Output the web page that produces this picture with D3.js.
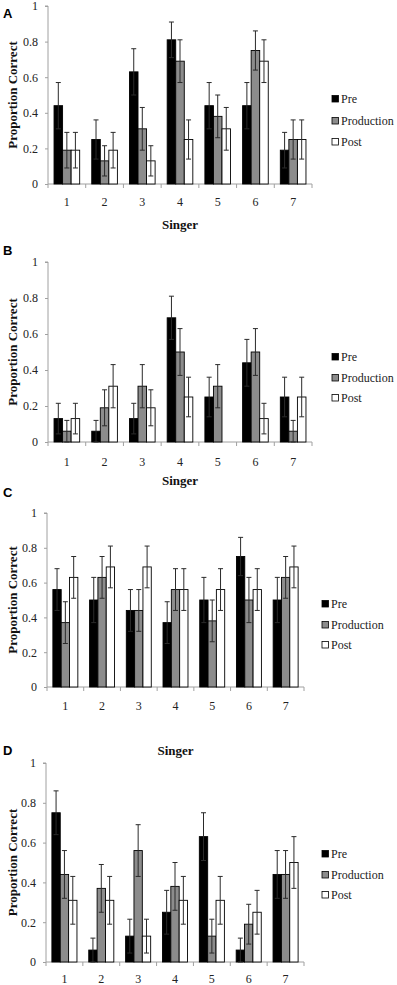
<!DOCTYPE html>
<html><head><meta charset="utf-8">
<script src="https://cdn.jsdelivr.net/npm/d3@7"></script>
<style>body{margin:0;background:#fff}svg{display:block}</style>
</head><body>
<svg id="chart" width="397" height="985"></svg>
<script>
const singers = ["1","2","3","4","5","6","7"];
const seriesNames = ["Pre","Production","Post"];
const seriesColors = ["#000000","#8c8c8c","#ffffff"];
const yTickValues = [0,0.2,0.4,0.6,0.8,1];
const yTickLabels = ["0","0.2","0.4","0.6","0.8","1"];
const panelLetters = ["A","B","C","D"];

// Panel A
const preA  = [0.44,0.25,0.63,0.81,0.44,0.44,0.19];
const prodA = [0.19,0.13,0.31,0.69,0.38,0.75,0.25];
const postA = [0.19,0.19,0.13,0.25,0.31,0.69,0.25];
const errPreA  = [0.13,0.11,0.13,0.10,0.13,0.13,0.10];
const errProdA = [0.10,0.085,0.12,0.12,0.12,0.11,0.11];
const errPostA = [0.10,0.10,0.085,0.11,0.12,0.12,0.11];
// Panel B
const preB  = [0.13,0.06,0.13,0.69,0.25,0.44,0.25];
const prodB = [0.06,0.19,0.31,0.50,0.31,0.50,0.06];
const postB = [0.13,0.31,0.19,0.25,0.00,0.13,0.25];
const errPreB  = [0.085,0.06,0.085,0.12,0.11,0.13,0.11];
const errProdB = [0.06,0.10,0.12,0.13,0.12,0.13,0.06];
const errPostB = [0.085,0.12,0.10,0.11,0.00,0.085,0.11];
// Panel C
const preC  = [0.56,0.50,0.44,0.37,0.50,0.75,0.50];
const prodC = [0.37,0.63,0.44,0.56,0.38,0.50,0.63];
const postC = [0.63,0.69,0.69,0.56,0.56,0.56,0.69];
const errPreC  = [0.12,0.13,0.12,0.12,0.13,0.11,0.13];
const errProdC = [0.12,0.12,0.12,0.12,0.12,0.13,0.12];
const errPostC = [0.12,0.12,0.12,0.12,0.12,0.12,0.12];
// Panel D
const preD  = [0.75,0.06,0.13,0.25,0.63,0.06,0.44];
const prodD = [0.44,0.37,0.56,0.38,0.13,0.19,0.44];
const postD = [0.31,0.31,0.13,0.31,0.31,0.25,0.50];
const errPreD  = [0.11,0.06,0.085,0.11,0.12,0.06,0.12];
const errProdD = [0.12,0.12,0.13,0.12,0.085,0.10,0.12];
const errPostD = [0.12,0.12,0.085,0.12,0.12,0.11,0.13];

const panelData = [
  {vals:[preA,prodA,postA], errs:[errPreA,errProdA,errPostA]},
  {vals:[preB,prodB,postB], errs:[errPreB,errProdB,errPostB]},
  {vals:[preC,prodC,postC], errs:[errPreC,errProdC,errPostC]},
  {vals:[preD,prodD,postD], errs:[errPreD,errProdD,errPostD]}
];

// layout (pixels)
const layouts = [
  {x0:48,x1:312,yTop:6,  yBase:184,tickY:206,singerY:229,letterY:18, legX:332,legY:[99,121,142],singer:true},
  {x0:48,x1:312,yTop:262,yBase:442,tickY:466,singerY:485,letterY:255,legX:332,legY:[357,378,398],singer:true},
  {x0:47,x1:304,yTop:513,yBase:687,tickY:710,singerY:755,letterY:497,legX:322,legY:[604,625,645],singer:true},
  {x0:46,x1:304,yTop:763,yBase:962,tickY:983,singerY:0,  letterY:755,legX:322,legY:[854,875,895],singer:false}
];

const svg = d3.select("#chart");
const serif = "'Liberation Serif','Times New Roman',serif";
const axisColor = "#a0a0a0";

layouts.forEach((L, pi) => {
  const D = panelData[pi];
  const g = svg.append("g");
  const y = d3.scaleLinear().domain([0,1]).range([L.yBase, L.yTop]);
  const x = d3.scaleBand().domain(singers).range([L.x0, L.x1]).padding(0);
  const bw = x.bandwidth();
  const xs = d3.scaleBand().domain(seriesNames).range([bw*0.16, bw*0.84]).padding(0);

  // y axis
  const yAxis = g.append("g").attr("transform", `translate(${L.x0},0)`)
    .call(d3.axisLeft(y).tickValues(yTickValues).tickSize(3).tickPadding(7)
      .tickFormat((d,i) => yTickLabels[i]));
  yAxis.select(".domain").attr("stroke", axisColor).attr("d", `M-3,${L.yTop}H0V${L.yBase}`);
  yAxis.selectAll(".tick line").attr("stroke", axisColor);
  yAxis.selectAll(".tick text").attr("font-family", serif).attr("font-size", 12).attr("fill", "#222");

  // x axis
  const xAxis = g.append("g").attr("transform", `translate(0,${L.yBase})`)
    .call(d3.axisBottom(x).tickSize(0).tickPadding(0).tickFormat(d => ""));
  xAxis.select(".domain").attr("stroke", axisColor).attr("d", `M${L.x0},0H${L.x1}`);
  // boundary ticks
  const bounds = singers.map(s => x(s)).concat([L.x1]);
  g.selectAll(".bt").data(bounds).join("line")
    .attr("x1", d => d).attr("x2", d => d)
    .attr("y1", L.yBase).attr("y2", L.yBase + 4)
    .attr("stroke", axisColor);
  // x tick labels
  g.selectAll(".xl").data(singers).join("text")
    .attr("x", d => x(d) + bw/2).attr("y", L.tickY)
    .attr("text-anchor", "middle").attr("font-family", serif).attr("font-size", 12).attr("fill", "#222")
    .text(d => d);

  // bars
  seriesNames.forEach((sn, si) => {
    const vals = D.vals[si];
    g.selectAll(".bar" + si).data(vals).join("rect")
      .attr("x", (d,i) => x(singers[i]) + xs(sn))
      .attr("width", xs.bandwidth())
      .attr("y", d => y(d))
      .attr("height", d => y(0) - y(d))
      .attr("fill", seriesColors[si])
      .attr("stroke", d => d > 0 ? "#000" : "none")
      .attr("stroke-width", 0.9);
  });
  // error bars
  seriesNames.forEach((sn, si) => {
    const vals = D.vals[si], errs = D.errs[si];
    const eg = g.append("g").attr("stroke", "#2a2a2a").attr("stroke-width", 1).attr("fill", "none");
    vals.forEach((v, i) => {
      const e = errs[i];
      if (!(e > 0)) return;
      const cx = x(singers[i]) + xs(sn) + xs.bandwidth()/2;
      const yt = y(v + e), yb = y(Math.max(0, v - e));
      eg.append("line").attr("x1", cx).attr("x2", cx).attr("y1", yt).attr("y2", yb);
      eg.append("line").attr("x1", cx - 2.5).attr("x2", cx + 2.5).attr("y1", yt).attr("y2", yt);
      eg.append("line").attr("x1", cx - 2.5).attr("x2", cx + 2.5).attr("y1", yb).attr("y2", yb);
    });
  });

  // y title
  const cy = (L.yTop + L.yBase) / 2;
  g.append("text").attr("transform", `translate(17,${cy}) rotate(-90)`)
    .attr("text-anchor", "middle").attr("font-family", serif).attr("font-weight", "bold")
    .attr("font-size", 13).attr("fill", "#111").text("Proportion Correct");

  // x title
  if (L.singer) {
    g.append("text").attr("x", (L.x0 + L.x1)/2).attr("y", L.singerY)
      .attr("text-anchor", "middle").attr("font-family", serif).attr("font-weight", "bold")
      .attr("font-size", 13).attr("fill", "#111").text("Singer");
  }

  // panel letter
  g.append("text").attr("x", 3).attr("y", L.letterY)
    .attr("font-family", "'Liberation Sans',Arial,sans-serif").attr("font-weight", "bold")
    .attr("font-size", 13).attr("fill", "#000").text(panelLetters[pi]);

  // legend
  seriesNames.forEach((sn, si) => {
    const ly = L.legY[si];
    g.append("rect").attr("x", L.legX).attr("y", ly - 3.5).attr("width", 6.5).attr("height", 6.5)
      .attr("fill", seriesColors[si]).attr("stroke", "#000").attr("stroke-width", 0.8);
    g.append("text").attr("x", L.legX + 9).attr("y", ly + 4)
      .attr("font-family", serif).attr("font-size", 12).attr("fill", "#222").text(sn);
  });
});
</script>
</body></html>
